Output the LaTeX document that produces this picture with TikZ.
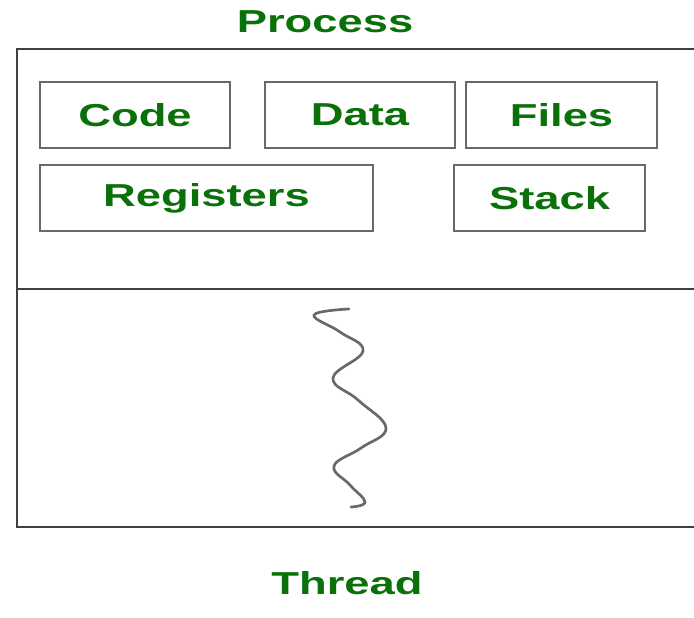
\documentclass[tikz,border=0pt]{standalone}
\usepackage{fontspec}
\setmainfont{Liberation Sans}
\usepackage{graphicx}
\usepackage{tikz}
\usetikzlibrary{positioning}
\definecolor{labelgreen}{RGB}{10,112,10}
\definecolor{boxgray}{RGB}{105,105,105}
\newcommand{\widetext}[1]{\scalebox{1.5}[1.05]{#1}}

\begin{document}
\begin{tikzpicture}[x=0.025cm, y=-0.025cm,
  part/.style={rectangle, draw=boxgray, line width=1.4pt, inner sep=0pt,
               minimum height=1.65cm, font=\bfseries\fontsize{21.5}{24}\selectfont,
               text=labelgreen},
  title/.style={font=\bfseries\fontsize{21.5}{24}\selectfont, text=labelgreen, inner sep=0pt},
  frame/.style={draw=black!75, line width=1pt}
]
  \useasboundingbox (0,0) rectangle (694,617);

  % process frame, open on the right
  \coordinate (tl) at (17,49);
  \coordinate (tr) at (694,49);
  \coordinate (bl) at (17,527);
  \coordinate (br) at (694,527);
  \coordinate (ml) at (17,289);
  \coordinate (mr) at (694,289);
  \draw[frame] (tr) -- (tl) -- (bl) -- (br);
  \draw[frame] (ml) -- (mr);

  \node[title] (proc) at (325,22) {\widetext{Process}};
  \node[title] (thrd) at (347,583) {\widetext{Thread}};

  \node[part, minimum width=4.75cm]  (code)  at (135,115)   {\widetext{Code}};
  \node[part, minimum width=4.75cm]  (data)  at (360,115)   {\widetext{Data}};
  \node[part, minimum width=4.775cm] (files) at (561.5,115) {\widetext{Files}};
  \node[part, minimum width=8.325cm] (regs)  at (206.5,198) {\widetext{Registers}};
  \node[part, minimum width=4.775cm] (stack) at (549.5,198) {\widetext{Stack}};

  % the thread itself
  \draw[boxgray, line width=1.9pt, line cap=round]
    plot[smooth, tension=0.7] coordinates {(349,309) (314,315) (340,332) (363,351)
      (333,378) (358,400) (386,428) (361,448) (334,466) (350,485) (365,502) (351,507)};
\end{tikzpicture}
\end{document}
